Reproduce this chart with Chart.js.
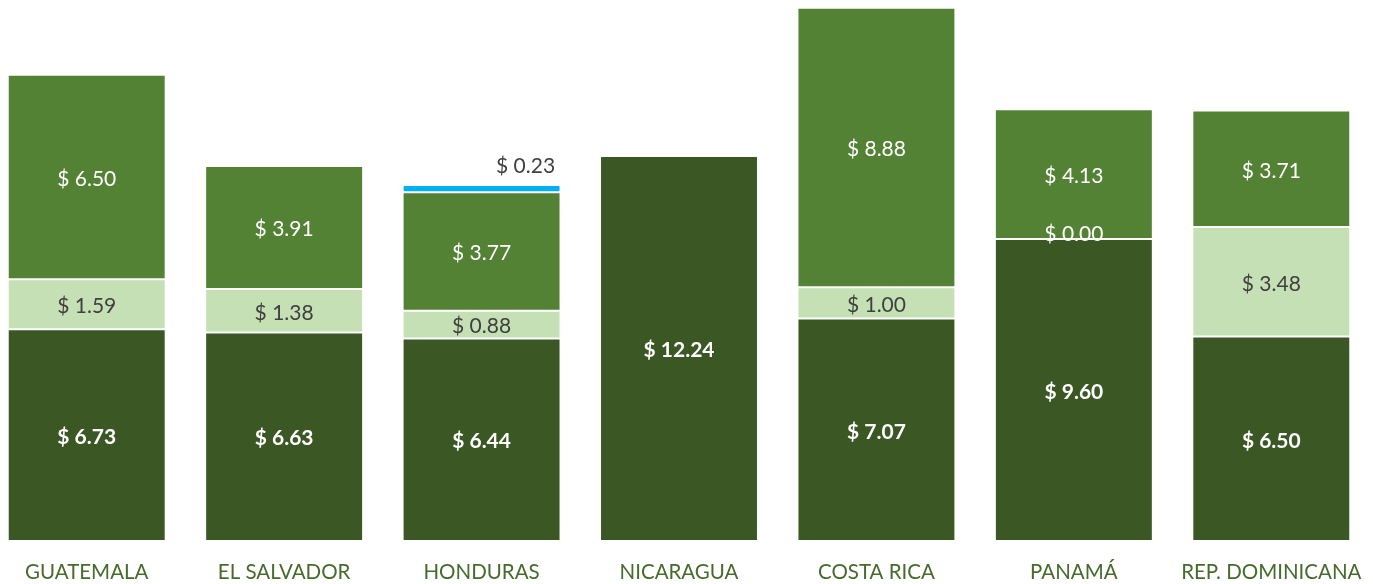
<!DOCTYPE html>
<html>
<head>
<meta charset="utf-8">
<script src="https://cdn.jsdelivr.net/npm/chart.js@4.4.1/dist/chart.umd.min.js"></script>
<style>
  html, body { margin: 0; padding: 0; background: #fff; overflow: hidden; }
  #wrap { position: absolute; left: -12px; top: 0; width: 1382px; height: 584px; }
</style>
</head>
<body>
<div id="wrap"><canvas id="grafico"></canvas></div>
<script>
// Données (USD)
const categories = ['GUATEMALA', 'EL SALVADOR', 'HONDURAS', 'NICARAGUA', 'COSTA RICA', 'PANAMÁ', 'REP. DOMINICANA'];
const serieBase = [6.73, 6.63, 6.44, 12.24, 7.07, 9.60, 6.50];
const serieMedia = [1.59, 1.38, 0.88, null, 1.00, 0.00, 3.48];
const serieAlta = [6.50, 3.91, 3.77, null, 8.88, 4.13, 3.71];
const serieExtra = [null, null, 0.23, null, null, null, null];

const FONT = 'Lato, "Open Sans", sans-serif';

// Étiquettes de valeurs dessinées à la main (pas de plugin datalabels)
const etiquettes = {
    id: 'etiquettes',
    afterDatasetsDraw(chart) {
        const ctx = chart.ctx;
        chart.data.datasets.forEach((ds, i) => {
            const meta = chart.getDatasetMeta(i);
            meta.data.forEach((bar, j) => {
                const v = ds.data[j];
                if (v === null || v === undefined) return;
                const txt = '$ ' + v.toFixed(2);
                let x = bar.x;
                let y = (bar.y + bar.base) / 2 + 2;
                let color = ds.labelColor;
                if (ds.labelAbove) {
                    x = bar.x + 44;
                    y = bar.y - 19;
                }
                // segment nul : étiquette blanche posée sur la jonction
                if (v === 0) {
                    color = '#ffffff';
                    y -= 7;
                }
                ctx.save();
                ctx.font = (ds.labelBold ? 'bold ' : '') + '21px ' + FONT;
                ctx.fillStyle = color;
                ctx.textAlign = 'center';
                ctx.textBaseline = 'middle';
                ctx.fillText(txt, x, y);
                ctx.restore();
            });
        });
    }
};

new Chart(document.getElementById('grafico'), {
    type: 'bar',
    data: {
        labels: categories,
        datasets: [
            { data: serieBase, backgroundColor: '#3a5724', labelColor: '#ffffff', labelBold: true },
            { data: serieMedia, backgroundColor: '#c5e0b4', labelColor: '#404040' },
            { data: serieAlta, backgroundColor: '#548235', labelColor: '#ffffff' },
            { data: serieExtra, backgroundColor: '#00b0f0', labelColor: '#404040', labelAbove: true, borderRadius: 2 }
        ]
    },
    options: {
        responsive: true,
        maintainAspectRatio: false,
        animation: false,
        layout: { padding: 0 },
        datasets: {
            bar: {
                barPercentage: 0.8,
                categoryPercentage: 1,
                borderWidth: 1,
                borderColor: 'rgba(255,255,255,0.25)',
                borderSkipped: false
            }
        },
        plugins: {
            legend: { display: false },
            tooltip: { enabled: false }
        },
        scales: {
            x: {
                stacked: true,
                grid: { display: false, drawTicks: false },
                border: { display: false },
                ticks: {
                    color: '#466b2c',
                    font: { family: FONT, size: 20.5 },
                    padding: 19,
                    maxRotation: 0
                },
                afterFit(scale) {
                    scale.height = 43;
                    // pas de marge latérale due aux libellés des extrémités
                    scale.paddingLeft = 0;
                    scale.paddingRight = 0;
                }
            },
            y: {
                stacked: true,
                display: false,
                min: 0,
                max: 17.2
            }
        }
    },
    plugins: [etiquettes]
});
</script>
</body>
</html>
